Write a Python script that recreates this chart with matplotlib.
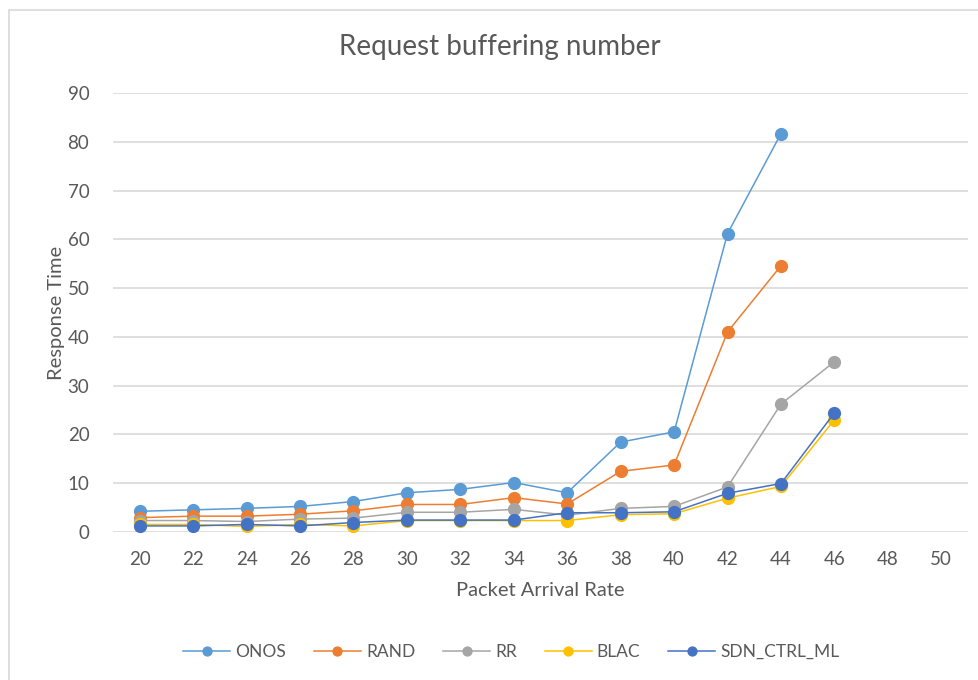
import numpy as np
import matplotlib.pyplot as plt
from matplotlib.patches import Rectangle

# packet arrival rate categories
rates = [20, 22, 24, 26, 28, 30, 32, 34, 36, 38, 40, 42, 44, 46, 48, 50]
nan = np.nan

onos = [4.2, 4.5, 4.8, 5.2, 6.2, 8.0, 8.7, 10.1, 8.0, 18.4, 20.5, 61.2, 81.7, nan, nan, nan]
rand = [2.9, 3.2, 3.2, 3.6, 4.3, 5.6, 5.6, 7.0, 5.7, 12.4, 13.7, 41.0, 54.6, nan, nan, nan]
rr = [2.3, 2.3, 2.1, 2.6, 2.8, 4.0, 4.0, 4.6, 3.4, 4.8, 5.2, 9.2, 26.2, 34.9, nan, nan]
blac = [1.5, 1.5, 1.1, 1.5, 1.2, 2.3, 2.3, 2.3, 2.3, 3.5, 3.7, 6.9, 9.3, 23.0, nan, nan]
sdn_ctrl_ml = [1.2, 1.2, 1.5, 1.2, 1.9, 2.4, 2.4, 2.4, 3.9, 3.9, 4.1, 7.9, 9.9, 24.4, nan, nan]

series = [
    ("ONOS", onos, "#5B9BD5"),
    ("RAND", rand, "#ED7D31"),
    ("RR", rr, "#A5A5A5"),
    ("BLAC", blac, "#FFC000"),
    ("SDN_CTRL_ML", sdn_ctrl_ml, "#4472C4"),
]

plt.rcParams['font.family'] = ['Lato', 'DejaVu Sans']
text_col = "#595959"

fig = plt.figure(figsize=(9.79, 6.8), dpi=100)
# light chart frame
fig.patches.append(Rectangle((9 / 979, -0.1), 1.1, 1 - 10 / 680 + 0.1,
                             transform=fig.transFigure, fill=False,
                             edgecolor="#D9D9D9", linewidth=1.2))

ax = fig.add_axes([0.1154, 0.218, 0.8734, 0.645])
x = np.arange(len(rates))
for name, vals, col in series:
    ax.plot(x, vals, color=col, linewidth=1.1, marker="o", markersize=8.5,
            label=name)

ax.set_xlim(-0.5, len(rates) - 0.5)
ax.set_ylim(0, 90)
ax.set_yticks(range(0, 91, 10))
ax.set_xticks(x)
ax.set_xticklabels([str(r) for r in rates])
ax.grid(axis="y", color="#D9D9D9", linewidth=1.2)
ax.set_axisbelow(True)
for s in ax.spines.values():
    s.set_visible(False)
ax.tick_params(length=0, labelsize=13.5, colors=text_col)
ax.tick_params(axis="y", pad=17)
ax.tick_params(axis="x", pad=14)

fig.suptitle("Request buffering number", x=0.511, y=0.931, va="center",
             fontsize=20, color=text_col)
ax.set_xlabel("Packet Arrival Rate", fontsize=14.5, color=text_col, labelpad=10)
ax.set_ylabel("Response Time", fontsize=14.5, color=text_col, labelpad=2)

ax.legend(loc="center", bbox_to_anchor=(0.466, -0.274), ncol=5, frameon=False,
          fontsize=12.5, handlelength=2.7, handletextpad=0.3, columnspacing=1.6,
          markerscale=0.75, labelcolor=text_col)

fig.savefig("out.png", dpi=100)
